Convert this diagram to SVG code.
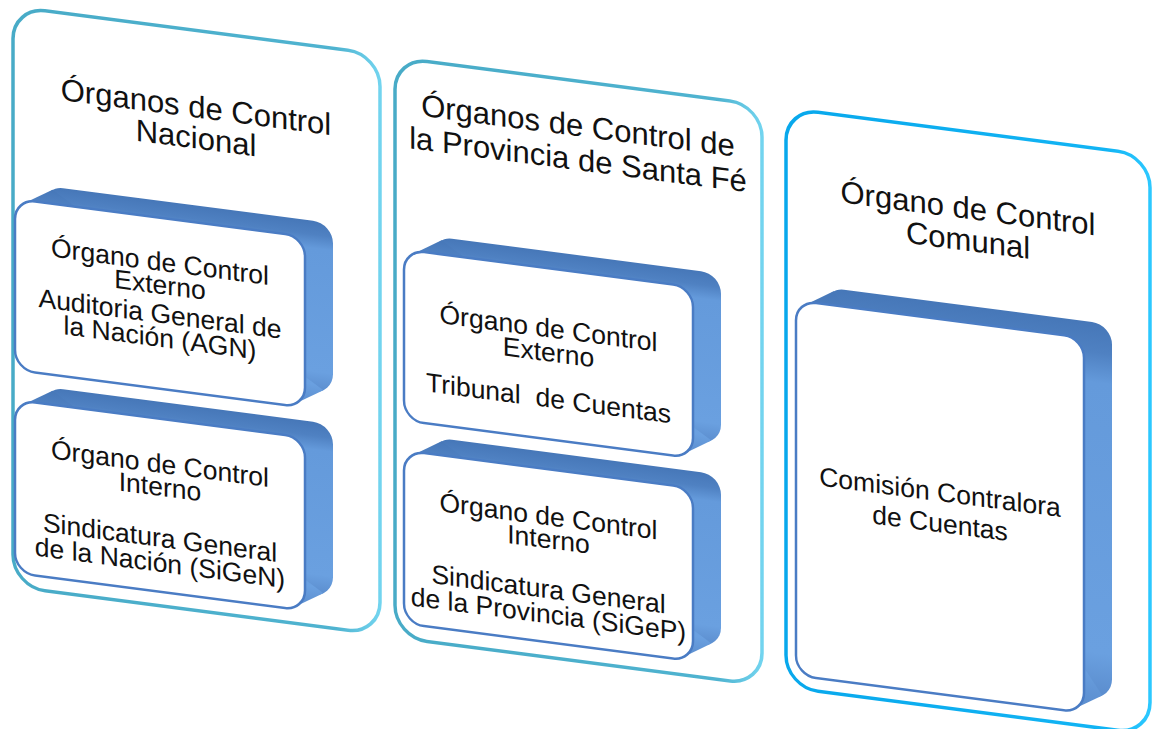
<svg xmlns="http://www.w3.org/2000/svg" width="1157" height="729" viewBox="0 0 1157 729">
<defs>
<linearGradient id="gc12" x1="0" y1="0" x2="1" y2="0">
<stop offset="0" stop-color="#48abc7"/>
<stop offset="0.88" stop-color="#4fb3d0"/>
<stop offset="1" stop-color="#72d4ef"/>
</linearGradient>
<linearGradient id="gc3" x1="0" y1="0" x2="1" y2="0">
<stop offset="0" stop-color="#08a8ec"/>
<stop offset="0.88" stop-color="#12b4f4"/>
<stop offset="1" stop-color="#2cc8ff"/>
</linearGradient>
<linearGradient id="gext" x1="0" y1="0" x2="0" y2="1">
<stop offset="0" stop-color="#4677b8"/>
<stop offset="0.08" stop-color="#4f81c2"/>
<stop offset="0.16" stop-color="#649adb"/>
<stop offset="0.88" stop-color="#6aa0e0"/>
<stop offset="1" stop-color="#5a8ccd"/>
</linearGradient>
</defs>
<style>
.cont{fill:#ffffff;stroke-width:3.5}
.title{font-family:"Liberation Sans",Arial,sans-serif;font-size:31px;fill:#111111;text-anchor:middle}
.txt{font-family:"Liberation Sans",Arial,sans-serif;font-size:26.5px;fill:#111111;text-anchor:middle}
.front{fill:#ffffff;stroke:#4a7cc4;stroke-width:2.5}
.ext{fill:url(#gext)}
</style>
<g transform="matrix(1 0.13 0 1 0 0)">
<g id="control-nacional">
<rect class="cont" x="13" y="5" width="367" height="580" rx="32" stroke="url(#gc12)"/>
<text class="title"><tspan x="196" y="92">Órganos de Control</tspan><tspan x="196" y="123">Nacional</tspan></text>
</g>
<g id="control-provincia">
<rect class="cont" x="395" y="6" width="367" height="580" rx="32" stroke="url(#gc12)"/>
<text class="title"><tspan x="578" y="61">Órganos de Control de</tspan><tspan x="578" y="95">la Provincia de Santa Fé</tspan></text>
</g>
<g id="control-comunal">
<rect class="cont" x="786" y="6" width="364" height="579" rx="32" stroke="url(#gc3)"/>
<text class="title"><tspan x="968" y="93">Órgano de Control</tspan><tspan x="968" y="125">Comunal</tspan></text>
</g>
<g id="nacional-externo" transform="translate(15,197)">
<rect class="ext" x="28" y="-17" width="290" height="171" rx="20"/>
<polygon class="ext" points="9.6,2.9 37.6,-14.1 308.4,151.1 280.4,168.1"/>
<rect class="front" x="0" y="0" width="290" height="171" rx="20"/>
<text class="txt"><tspan x="145" y="53">Órgano de Control</tspan><tspan x="145" y="76">Externo</tspan><tspan x="145" y="105">Auditoria General de</tspan><tspan x="145" y="129">la Nación (AGN)</tspan></text>
</g>
<g id="nacional-interno" transform="translate(15,398)">
<rect class="ext" x="28" y="-17" width="290" height="173" rx="20"/>
<polygon class="ext" points="9.6,2.9 37.6,-14.1 308.4,153.1 280.4,170.1"/>
<rect class="front" x="0" y="0" width="290" height="173" rx="20"/>
<text class="txt"><tspan x="145" y="54">Órgano de Control</tspan><tspan x="145" y="77">Interno</tspan><tspan x="145" y="128">Sindicatura General</tspan><tspan x="145" y="153">de la Nación (SiGeN)</tspan></text>
</g>
<g id="provincia-externo" transform="translate(404,197)">
<rect class="ext" x="28" y="-17" width="289" height="171" rx="20"/>
<polygon class="ext" points="9.6,2.9 37.6,-14.1 307.4,151.1 279.4,168.1"/>
<rect class="front" x="0" y="0" width="289" height="171" rx="20"/>
<text class="txt" xml:space="preserve" style="white-space:pre"><tspan x="144.5" y="69">Órgano de Control</tspan><tspan x="144.5" y="93">Externo</tspan><tspan x="144.5" y="139">Tribunal  de Cuentas</tspan></text>
</g>
<g id="provincia-interno" transform="translate(404,398)">
<rect class="ext" x="28" y="-17" width="289" height="173" rx="20"/>
<polygon class="ext" points="9.6,2.9 37.6,-14.1 307.4,153.1 279.4,170.1"/>
<rect class="front" x="0" y="0" width="289" height="173" rx="20"/>
<text class="txt"><tspan x="144.5" y="56">Órgano de Control</tspan><tspan x="144.5" y="79">Interno</tspan><tspan x="144.5" y="129">Sindicatura General</tspan><tspan x="144.5" y="154">de la Provincia (SiGeP)</tspan></text>
</g>
<g id="comunal-comision" transform="translate(796,197)">
<rect class="ext" x="28" y="-17" width="288" height="375" rx="20"/>
<polygon class="ext" points="9.6,2.9 37.6,-14.1 306.4,355.1 278.4,372.1"/>
<rect class="front" x="0" y="0" width="288" height="375" rx="20"/>
<text class="txt"><tspan x="144" y="182">Comisión Contralora</tspan><tspan x="144" y="213">de Cuentas</tspan></text>
</g>
<g id="connectors"/>
</g>
</svg>
